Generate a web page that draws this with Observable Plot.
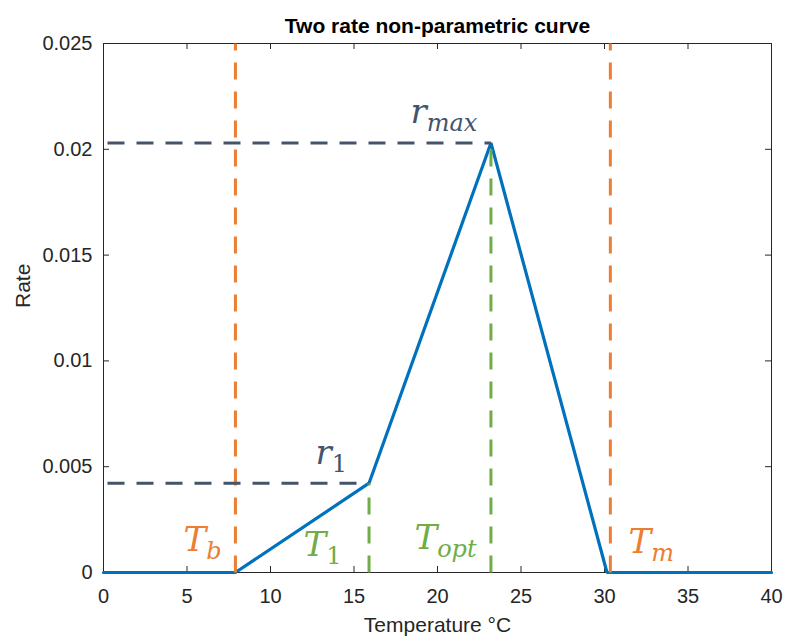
<!DOCTYPE html>
<html>
<head>
<meta charset="utf-8">
<script src="https://cdn.jsdelivr.net/npm/d3@7"></script>
<script src="https://cdn.jsdelivr.net/npm/@observablehq/plot@0.6"></script>
<style>
  html, body { margin: 0; padding: 0; background: #ffffff; }
  #chart svg { display: block; }
</style>
</head>
<body>
<div id="chart"></div>
<script>
// ---- chart values ----
const titleText = "Two rate non-parametric curve";
const xLabelText = "Temperature \u00B0C";
const yLabelText = "Rate";

const xTicks = [0, 5, 10, 15, 20, 25, 30, 35, 40];
const yTicks = [0, 0.005, 0.01, 0.015, 0.02, 0.025];
const yTickLabels = ["0", "0.005", "0.01", "0.015", "0.02", "0.025"];

// parameters of the curve
const Tb = 7.9, T1 = 15.9, Topt = 23.2, Tm = 30.35;
const r1 = 0.00422, rmax = 0.0203;

// the blue rate curve
const curveT    = [0, 7.9, 15.9, 23.2, 30.15, 40];
const curveRate = [0, 0,   0.00422, 0.0203, 0, 0];

// dashed guide lines
const vGuideX    = [Tb, T1, Topt, Tm];
const vGuideTop  = [0.025, r1, rmax, 0.025];
const vGuideKind = ["bound", "break", "break", "bound"];
const hGuideY    = [r1, rmax];
const hGuideEnd  = [T1, Topt];

// math labels (position = left edge / glyph centre, in data units)
const labelMain = ["T", "T", "T", "T", "r", "r"];
const labelSub  = ["b", "1", "opt", "m", "1", "max"];
const labelKind = ["bound", "break", "break", "bound", "rate", "rate"];
const labelX    = [4.79, 11.98, 18.62, 31.44, 12.69, 18.38];
const labelY    = [0.00154, 0.00130, 0.00164, 0.00145, 0.00565, 0.02177];

// ---- styling ----
const W = 787, H = 639;
const mL = 103, mR = 16, mT = 43, mB = 67;
const frameW = W - mL - mR, frameH = H - mT - mB;
const tickLen = 6;
const axisColor = "#262626";
const kindColor = {bound: "#ED7D31", break: "#70AD47", rate: "#44546A"};
const dash = "17,12";

const curve = curveT.map((t, i) => ({t, rate: curveRate[i]}));
const vGuides = vGuideX.map((x, i) => ({x, top: vGuideTop[i], kind: vGuideKind[i]}));
const hGuides = hGuideY.map((y, i) => ({y, end: hGuideEnd[i]}));
const labels = labelMain.map((m, i) => ({main: m, sub: labelSub[i], kind: labelKind[i], x: labelX[i], y: labelY[i]}));

const svg = Plot.plot({
  width: W,
  height: H,
  marginLeft: mL,
  marginRight: mR,
  marginTop: mT,
  marginBottom: mB,
  style: {fontFamily: "'Liberation Sans', Arial, sans-serif", fontSize: "20px", color: axisColor, background: "#ffffff", overflow: "visible"},
  x: {domain: [0, 40]},
  y: {domain: [0, 0.025]},
  marks: [
    Plot.axisX({ticks: xTicks, tickSize: 0, tickPadding: 16, label: null, tickFormat: d => String(d)}),
    Plot.axisY({ticks: yTicks, tickSize: 0, tickPadding: 11, label: null, tickFormat: d => yTickLabels[yTicks.indexOf(d)]}),
    Plot.tickX(xTicks, {x: d => d, insetTop: frameH - tickLen, stroke: axisColor, strokeWidth: 1}),
    Plot.tickX(xTicks, {x: d => d, insetBottom: frameH - tickLen, stroke: axisColor, strokeWidth: 1}),
    Plot.tickY(yTicks, {y: d => d, insetRight: frameW - tickLen, stroke: axisColor, strokeWidth: 1}),
    Plot.tickY(yTicks, {y: d => d, insetLeft: frameW - tickLen, stroke: axisColor, strokeWidth: 1}),
    Plot.frame({stroke: axisColor, strokeWidth: 1}),
    Plot.line(curve, {x: "t", y: "rate", stroke: "#0072BD", strokeWidth: 3.2, strokeLinejoin: "miter"}),
    Plot.link(vGuides, {x1: "x", x2: "x", y1: 0, y2: "top", stroke: d => kindColor[d.kind], strokeWidth: 3, strokeDasharray: dash}),
    Plot.link(hGuides, {x1: 0, x2: "end", y1: "y", y2: "y", stroke: kindColor.rate, strokeWidth: 3, strokeDasharray: dash, strokeDashoffset: -4}),
    Plot.text(labels, {x: "x", y: "y", text: "main", fill: d => kindColor[d.kind], textAnchor: "start", lineAnchor: "middle",
      fontFamily: "DejaVu Serif", fontStyle: "italic", fontSize: 34}),
    Plot.text([titleText], {frameAnchor: "top", dy: -17, fontSize: 21, fontWeight: "bold", fill: "#000000", lineAnchor: "middle"}),
    Plot.text([xLabelText], {frameAnchor: "bottom", dy: 53, fontSize: 21, fill: axisColor, lineAnchor: "middle"}),
    Plot.text([yLabelText], {frameAnchor: "left", dx: -80, rotate: -90, fontSize: 21, fill: axisColor, lineAnchor: "middle"})
  ]
});

// add subscripts to the math labels
const mathTexts = Array.from(svg.querySelectorAll("g[font-family] text"))
  .filter(t => /DejaVu Serif/.test(t.parentNode.getAttribute("font-family")));
mathTexts.forEach((t, i) => {
  const sub = labelSub[i];
  if (sub === undefined) return;
  d3.select(t).append("tspan")
    .attr("dy", 8)
    .attr("font-size", 24)
    .attr("font-style", /^[0-9]+$/.test(sub) ? "normal" : "italic")
    .text(sub);
});

document.getElementById("chart").appendChild(svg);
</script>
</body>
</html>
